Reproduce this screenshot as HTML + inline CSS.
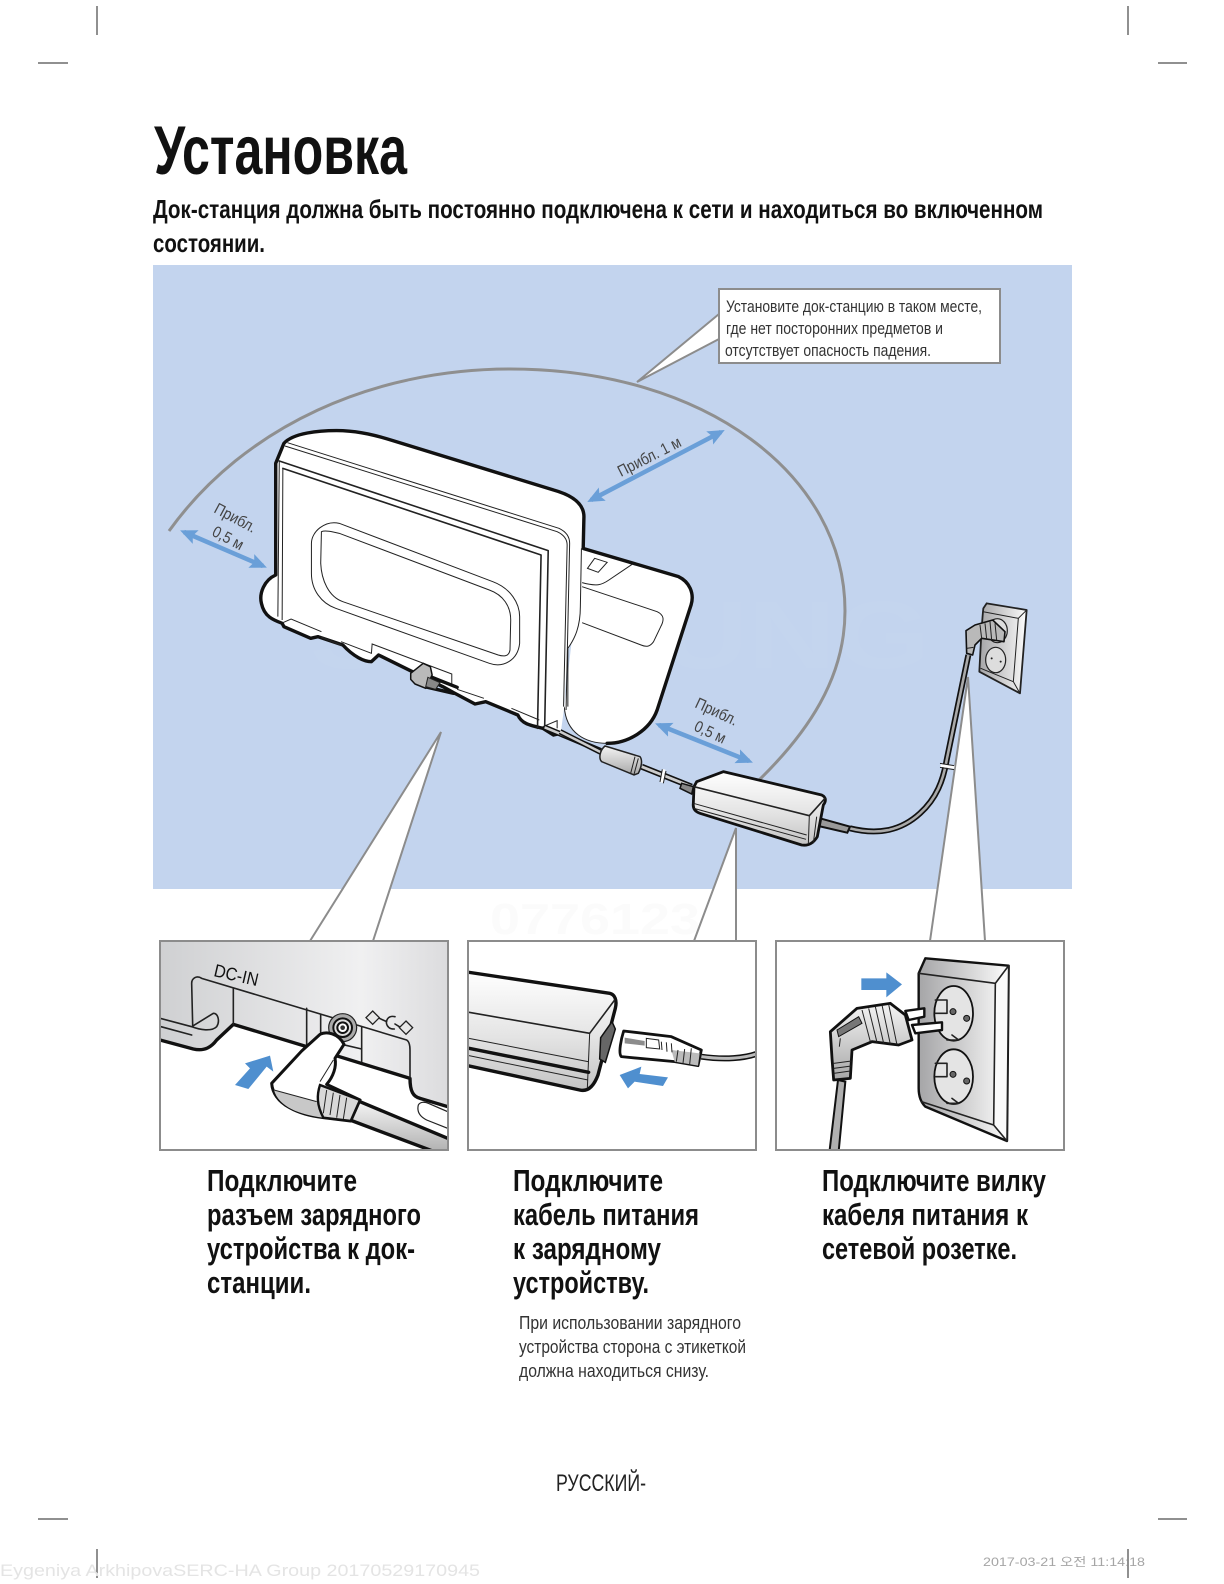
<!DOCTYPE html>
<html lang="ru"><head><meta charset="utf-8"><title>Установка</title>
<style>
html,body{margin:0;padding:0;background:#fff}
svg{display:block}
svg *{vector-effect:non-scaling-stroke}
text{font-family:"Liberation Sans","Noto Sans CJK KR",sans-serif;fill:#111}
.k{fill:none;stroke:#111;stroke-width:3.4;stroke-linejoin:round;stroke-linecap:round}
.t{fill:none;stroke:#222;stroke-width:1}
.m{fill:none;stroke:#222;stroke-width:1.6;stroke-linecap:round;stroke-linejoin:round}
.g{fill:none;stroke:#8c8c8c;stroke-width:2}
.cap{font-size:31px;font-weight:bold}
.note{font-size:18px;fill:#333}
.dim{font-size:16px;fill:#444}
</style></head><body>
<svg width="1224" height="1584" viewBox="0 0 1224 1584" xmlns="http://www.w3.org/2000/svg">
<defs>
<linearGradient id="hg" x1="0" x2="1" y1="0" y2="0"><stop offset="0" stop-color="#cfd0d2"/><stop offset=".7" stop-color="#f0f0f1"/><stop offset="1" stop-color="#dcdcde"/></linearGradient>
<linearGradient id="vg" x1="0" x2="0" y1="0" y2="1"><stop offset="0" stop-color="#fff"/><stop offset=".55" stop-color="#e4e4e4"/><stop offset="1" stop-color="#c4c4c4"/></linearGradient>
<linearGradient id="pg" x1="0" x2="1" y1="0" y2="0"><stop offset="0" stop-color="#a5a5a7"/><stop offset=".5" stop-color="#cfcfd0"/><stop offset=".85" stop-color="#eee"/><stop offset="1" stop-color="#fff"/></linearGradient>
<linearGradient id="cg" x1="0" x2="0" y1="0" y2="1"><stop offset="0" stop-color="#f4f4f4"/><stop offset="1" stop-color="#a8a8a8"/></linearGradient>
<marker id="ah" viewBox="0 0 16 14" refX="12" refY="7" markerUnits="userSpaceOnUse" markerWidth="17" markerHeight="15" orient="auto-start-reverse"><path d="M0 0L16 7L0 14L3 7Z" fill="#6a9fd8"/></marker>
<clipPath id="c1"><rect x="160" y="941" width="288" height="209"/></clipPath>
<clipPath id="c2"><rect x="468" y="941" width="288" height="209"/></clipPath>
<clipPath id="c3"><rect x="776" y="941" width="288" height="209"/></clipPath>
</defs>
<rect width="1224" height="1584" fill="#fff"/>

<!-- crop marks -->
<g stroke="#222" stroke-width="1" fill="none">
<path d="M97 6V35M1128 6V35M38 63H68M1158 63H1187M38 1519H68M1158 1519H1187M97 1549V1578M1128 1549V1578"/>
</g>

<!-- headings -->
<text x="154" y="174" font-size="69" font-weight="bold" textLength="253" lengthAdjust="spacingAndGlyphs">Установка</text>
<text x="153" y="218" font-size="26" font-weight="bold" textLength="890" lengthAdjust="spacingAndGlyphs">Док-станция должна быть постоянно подключена к сети и находиться во включенном</text>
<text x="153" y="252" font-size="26" font-weight="bold" textLength="112" lengthAdjust="spacingAndGlyphs">состоянии.</text>

<!-- blue area -->
<rect x="153" y="265" width="919" height="624" fill="#c3d4ee"/>
<text x="490" y="934" font-size="44" font-weight="bold" style="fill:#fbfbfb" textLength="240" lengthAdjust="spacingAndGlyphs">07761231</text>

<!-- range arc -->
<path d="M169 531C245 425 375 369 510 369C705 369 845 475 845 611C845 678 808 733 756 783" fill="none" stroke="#8f8f8f" stroke-width="3"/>

<!-- wedges -->
<path d="M441 732L310 941H373Z" fill="#fff"/><path d="M310 941L441 732L373 941" class="g"/>
<path d="M736 828L694 941H736Z" fill="#fff"/><path d="M694 941L736 828V941" class="g"/>
<path d="M968 677L930 941H985Z" fill="#fff"/><path d="M930 941L968 677L985 941" class="g"/>

<!-- callout -->
<path d="M719 314L637 382L719 339Z" fill="#fff"/><path d="M719 314L637 382L719 339" class="g"/>
<rect x="719" y="289" width="281" height="74" fill="#fff" stroke="#8c8c8c" stroke-width="2"/>
<text x="726" y="312" font-size="17" textLength="256" lengthAdjust="spacingAndGlyphs" style="fill:#333">Установите док-станцию в таком месте,</text>
<text x="726" y="334" font-size="17" textLength="217" lengthAdjust="spacingAndGlyphs" style="fill:#333">где нет посторонних предметов и</text>
<text x="725" y="356" font-size="17" textLength="206" lengthAdjust="spacingAndGlyphs" style="fill:#333">отсутствует опасность падения.</text>

<!-- faint watermark -->
<text x="310" y="668" font-size="96" font-weight="bold" textLength="620" lengthAdjust="spacingAndGlyphs" style="fill:#fff;opacity:.025">SAMSUNG</text>

<!-- distance arrows -->
<g stroke="#6a9fd8" stroke-width="4.5" fill="none" marker-start="url(#ah)" marker-end="url(#ah)">
<path d="M184 532L263 566" marker-start="url(#ah)" marker-end="url(#ah)"/>
<path d="M591 500L721 432" marker-start="url(#ah)" marker-end="url(#ah)"/>
<path d="M659 725L749 761" marker-start="url(#ah)" marker-end="url(#ah)"/>
</g>
<text class="dim" transform="translate(213 512) rotate(28)" textLength="45" lengthAdjust="spacingAndGlyphs">Прибл.</text>
<text class="dim" transform="translate(211 535) rotate(28)" textLength="33" lengthAdjust="spacingAndGlyphs">0,5 м</text>
<text class="dim" transform="translate(621 477) rotate(-27)" textLength="69" lengthAdjust="spacingAndGlyphs">Прибл. 1 м</text>
<text class="dim" transform="translate(694 707) rotate(25)" textLength="45" lengthAdjust="spacingAndGlyphs">Прибл.</text>
<text class="dim" transform="translate(693 730) rotate(25)" textLength="33" lengthAdjust="spacingAndGlyphs">0,5 м</text>

<!-- dock, zoom-1 coordinates -->
<g transform="translate(150 400) scale(.35714 .33333)">
<path d="M1210 445L1480 530C1510 545 1525 580 1515 615L1420 930C1400 990 1340 1030 1280 1030C1210 1030 1160 985 1160 920Z" fill="#fff"/>
<path class="k" d="M1212 445L1480 530C1510 545 1525 580 1515 615L1420 930C1400 990 1340 1030 1280 1030"/>
<path class="t" d="M1225 505L1245 475L1280 487L1255 517Z"/>
<path class="t" d="M1210 548C1250 560 1265 555 1285 540L1350 493M1210 560L1420 635C1440 645 1440 660 1430 680L1410 725C1400 740 1390 742 1375 735L1210 668M1160 920C1165 1000 1220 1030 1280 1030"/>
<path d="M375 130C400 100 470 90 540 92C590 95 630 105 680 122L1130 270C1180 285 1215 310 1215 350L1208 600L1205 680L1170 750L1160 920L1150 1000L1130 1005L1100 985C1060 975 1040 970 1030 945L940 905L910 912L850 878L820 860L640 765L620 785C600 785 570 770 540 735L470 710L450 715L375 680L370 670C345 660 320 650 312 610C305 580 320 540 352 525V190Z" fill="#fff"/>
<path class="k" d="M1213 445L1215 350C1215 310 1180 285 1130 270L680 122C630 105 590 95 540 92C470 90 400 100 375 130L352 190V525C320 540 305 580 312 610C320 650 345 660 370 670L375 680L450 715L470 710L540 735C570 770 600 785 620 785L640 765L820 860L850 878L910 912L940 905L1030 945C1040 970 1060 975 1100 985L1130 1005L1150 1000"/>
<path class="t" d="M1208 445L1205 620C1205 680 1190 715 1170 745V920"/>
<path class="t" d="M385 128L1145 385C1165 395 1175 410 1175 430L1165 930M378 138L1140 395C1160 405 1168 420 1168 435L1158 920"/>
<path class="m" d="M362 183L1115 452L1105 985M372 205L1095 465L1085 985"/>
<path class="t" stroke-width="1.5" d="M362 183L358 650M372 205L370 660"/>
<path class="t" d="M530 370L960 545C1010 565 1035 610 1035 650L1035 730C1030 780 990 805 950 790L520 625C480 610 452 570 452 520L452 430C452 395 490 360 530 370Z"/>
<path class="t" d="M480 395C490 390 510 395 530 400L950 570C990 585 1010 620 1010 660L1008 750C1005 770 990 770 975 765L540 605C500 590 480 540 478 490Z"/>
<path class="t" d="M372 668L395 657L480 695M535 725L620 760L622 732L845 822V855M860 868L935 895M1012 925L1090 960M1100 980L1140 962V985"/>
<path class="m" d="M480 712L535 735"/>
<path class="k" d="M780 828L860 862M770 860L850 880"/>
<path d="M730 820L765 790L785 800L790 825L772 865L742 852L730 838Z" fill="#b9b9b9" stroke="#111" stroke-width="1.5" stroke-linejoin="round"/>
<path d="M778 832L812 848L800 868L772 860Z" fill="#888" stroke="#222"/>
<path d="M1105 982L1262 1052" stroke="#111" stroke-width="5.5" fill="none"/>
<path d="M1105 982L1262 1052" stroke="#ccc" stroke-width="2.5" fill="none"/>
</g>

<!-- cable, adapter, wall socket: zoom-2 coordinates -->
<g transform="translate(560 560) scale(.33333)">
<path d="M1225 285L1160 600C1150 660 1130 715 1080 760C1020 815 950 825 870 805" fill="none" stroke="#111" stroke-width="6"/>
<path d="M1225 285L1160 600C1150 660 1130 715 1080 760C1020 815 950 825 870 805" fill="none" stroke="#a9a9a9" stroke-width="2.6"/>
<path d="M1142 616L1183 622" stroke="#fff" stroke-width="3" fill="none"/>
<path class="t" d="M1140 610L1182 617M1140 622L1182 629"/>
<path d="M245 620L395 680" stroke="#111" stroke-width="6" fill="none"/>
<path d="M245 620L395 680" stroke="#ccc" stroke-width="2.8" fill="none"/>
<path d="M312 628L305 668" stroke="#fff" stroke-width="3" fill="none"/>
<path class="t" d="M307 628L300 666M318 633L310 670"/>
<path d="M0 515L125 578" stroke="#111" stroke-width="5.5" fill="none"/>
<path d="M0 515L125 578" stroke="#ccc" stroke-width="2.5" fill="none"/>
<path d="M135 558L240 590C248 600 245 620 235 640L222 645L125 605C115 595 120 570 135 558Z" fill="url(#cg)" stroke="#222" stroke-width="1.5"/>
<path class="t" d="M225 590L212 640M235 595L222 643"/>
<path d="M365 670L400 680L395 702L360 685Z" fill="#888" stroke="#111" stroke-width="1.5"/>
<path d="M780 775L870 800L862 818L775 798Z" fill="#999" stroke="#111" stroke-width="2"/>
<path d="M410 665L490 635L785 705C800 712 798 725 790 735L772 830C760 850 745 858 725 855L420 760C405 755 398 745 400 730L402 680Z" fill="url(#vg)" stroke="#111" stroke-width="2.8" stroke-linejoin="round"/>
<path class="m" d="M402 680L748 767L795 715"/>
<path class="t" d="M748 767L745 852M400 730L740 825M402 745L738 838M770 770L760 850"/>
<path d="M1280 130L1400 150L1380 400L1258 335C1262 260 1265 190 1270 145Z" fill="url(#pg)" stroke="#222" stroke-width="1.8" stroke-linejoin="round"/>
<path class="t" d="M1268 155L1375 175L1398 152M1375 175L1360 365L1380 400M1262 325L1360 365"/>
<ellipse cx="1307" cy="300" rx="30" ry="38" fill="#ddd" stroke="#222" stroke-width="1.2"/>
<circle cx="1295" cy="295" r="3" fill="#222"/><circle cx="1322" cy="305" r="3" fill="#222"/>
<ellipse cx="1312" cy="212" rx="30" ry="36" fill="#ddd" stroke="#222" stroke-width="1.2"/>
<path d="M1218 212L1245 195L1298 180L1335 215L1332 245L1265 235L1245 255L1238 285L1220 280Z" fill="#b9b9b9" stroke="#111" stroke-width="1.6" stroke-linejoin="round"/>
<path class="t" d="M1260 195L1265 235M1275 190L1280 237M1290 185L1295 240M1305 190L1310 240M1220 265L1240 262"/>
</g>

<!-- panel 1 -->
<g clip-path="url(#c1)">
<rect x="160" y="941" width="288" height="209" fill="#fff"/>
<g transform="translate(150 925) scale(.33333)">
<path d="M30 47H893V545L810 520C790 515 780 500 780 460L470 365L250 298L200 345C185 365 165 380 130 372L30 345Z" fill="url(#hg)"/>
<path class="k" d="M30 345L130 372C165 380 185 365 200 345L250 298L470 365L780 460C780 500 790 515 810 520L893 545"/>
<path class="m" d="M30 280L125 305C150 315 185 320 200 305C210 290 205 265 190 265L125 305M33 305L125 330"/>
<path class="m" d="M128 300L125 175C125 160 140 150 155 160L770 345C778 350 780 360 780 375V458M250 190V298M470 250V362M512 268V322M635 305V410M575 358L635 372"/>
<path d="M805 540C810 530 825 530 835 535L893 560V610L830 585C810 575 800 560 805 540Z" fill="#fff" stroke="#222" stroke-width="1.2"/>
<circle cx="578" cy="308" r="42" fill="#aaa" stroke="#222" stroke-width="1.2"/>
<circle cx="578" cy="308" r="28" fill="#ddd" stroke="#111" stroke-width="2"/>
<circle cx="578" cy="308" r="16" fill="#fff" stroke="#111" stroke-width="2"/>
<circle cx="578" cy="308" r="7" fill="#333"/>
<path d="M630 530L893 640V700L600 585Z" fill="url(#cg)"/>
<path class="k" d="M630 530L893 640M600 585L893 695"/>
<path d="M365 475L455 378L510 328C530 318 565 325 582 358L555 400C560 425 550 455 530 478L630 525L602 588L520 578C450 570 370 540 365 475Z" fill="#fff" stroke="#111" stroke-width="3" stroke-linejoin="round"/>
<path d="M372 495L500 530L520 578C450 570 385 545 372 495Z" fill="#c8c8c8"/>
<path d="M510 480L630 525L602 588L520 578C500 540 500 510 510 480Z" fill="#d8d8d8" stroke="#111" stroke-width="2.4"/>
<path class="t" d="M530 495L520 565M550 503L540 570M570 510L560 578M590 518L580 582M372 495L500 530M510 470L550 405"/>
<path d="M255 480L300 430L285 415L360 392L370 440L350 425L295 492Z" fill="#4f8fcf"/>
<g fill="#e8e8e8" stroke="#222" stroke-width="1.3">
<path d="M668 258L688 278L668 298L648 278Z"/><path d="M768 288L788 308L768 328L748 308Z"/>
</g>
<path class="m" d="M688 280L710 290M735 297L748 305M735 275C712 270 705 290 712 302C718 312 727 312 733 312"/>
</g>
<text transform="translate(213 976) rotate(13)" font-size="18" textLength="45" lengthAdjust="spacingAndGlyphs">DC-IN</text>
</g>
<rect x="160" y="941" width="288" height="209" fill="none" stroke="#8c8c8c" stroke-width="2"/>

<!-- panel 2 -->
<g clip-path="url(#c2)">
<rect x="468" y="941" width="288" height="209" fill="#fff"/>
<g transform="translate(458 925) scale(.33333)">
<path d="M20 140L455 205C470 208 478 225 472 250L420 450C405 490 385 500 365 495L20 420Z" fill="url(#vg)" stroke="#111" stroke-width="3.4" stroke-linejoin="round"/>
<path class="m" d="M33 262L395 325L470 225"/>
<path class="t" d="M395 325L388 490M33 340L390 410"/>
<path class="k" stroke-width="2" d="M33 370L392 442"/>
<path class="t" d="M33 392L390 465"/>
<path d="M428 338L462 290L472 312L442 412L425 402Z" fill="#666" stroke="#111" stroke-width="1.5"/>
<path d="M730 395C800 405 860 400 900 385" fill="none" stroke="#111" stroke-width="6"/>
<path d="M730 395C800 405 860 400 900 385" fill="none" stroke="#bbb" stroke-width="3"/>
<path d="M497 318L640 335L730 375L720 422L650 410L490 395C480 385 490 340 497 318Z" fill="#fff" stroke="#111" stroke-width="2.8" stroke-linejoin="round"/>
<path d="M500 338L560 348V362L500 355Z" fill="#8c8c8c"/>
<path d="M640 375L725 385L720 422L650 410Z" fill="#bbb"/>
<path class="t" d="M565 340L602 345L605 372L565 368ZM610 350L612 375M625 352L627 380M640 355L642 382M660 375L655 410M680 372L675 415M700 370L695 418"/>
<path d="M485 450L550 425L545 447L630 457L615 483L530 470L510 490Z" fill="#4f8fcf"/>
</g></g>
<rect x="468" y="941" width="288" height="209" fill="none" stroke="#8c8c8c" stroke-width="2"/>

<!-- panel 3 -->
<g clip-path="url(#c3)">
<rect x="776" y="941" width="288" height="209" fill="#fff"/>
<g transform="translate(762 925) scale(.33333)">
<path d="M490 100L740 122L735 648L490 545C475 530 470 510 470 490L470 145Z" fill="url(#pg)" stroke="#111" stroke-width="2.4" stroke-linejoin="round"/>
<path d="M700 175L740 122L735 648L695 600Z" fill="#fafafa"/>
<path class="m" d="M470 145L700 175L740 122M700 175L695 600L735 648M478 530L695 600M740 122L735 648"/>
<ellipse cx="575" cy="265" rx="58" ry="82" fill="#e4e4e4" stroke="#111" stroke-width="1.8"/>
<ellipse cx="575" cy="455" rx="58" ry="82" fill="#e4e4e4" stroke="#111" stroke-width="1.8"/>
<path class="m" d="M520 225H555V265H520M520 415H555V455H520M570 330L590 345L555 345M570 520L590 535L555 535"/>
<circle cx="573" cy="260" r="9" fill="#666" stroke="#111"/><circle cx="614" cy="280" r="9" fill="#666" stroke="#111"/>
<circle cx="573" cy="448" r="9" fill="#666" stroke="#111"/><circle cx="614" cy="468" r="9" fill="#666" stroke="#111"/>
<path d="M430 258L487 250V275L440 285ZM450 300L540 292V315L460 325Z" fill="#fff" stroke="#111" stroke-width="2.4" stroke-linejoin="round"/>
<path d="M228 465L200 700H228L250 470Z" fill="#b0b0b0" stroke="#111" stroke-width="2"/>
<path d="M205 320L285 250L385 235L430 270L450 345L410 360L330 350L270 375L265 460L215 465L210 400Z" fill="url(#cg)" stroke="#111" stroke-width="2.8" stroke-linejoin="round"/>
<path d="M225 315L290 275L300 295L230 335Z" fill="#777" stroke="#111"/>
<path class="t" d="M300 255L325 350M320 250L345 352M340 245L365 355M360 240L385 358M380 238L405 360M215 415L268 408M215 430L268 423M215 445L265 438M232 365L235 340"/>
<path d="M298 160H373V142L420 178L373 217V195H298Z" fill="#4f8fcf"/>
</g></g>
<rect x="776" y="941" width="288" height="209" fill="none" stroke="#8c8c8c" stroke-width="2"/>

<!-- captions -->
<text class="cap" x="207" y="1191" textLength="150" lengthAdjust="spacingAndGlyphs">Подключите</text>
<text class="cap" x="207" y="1225" textLength="214" lengthAdjust="spacingAndGlyphs">разъем зарядного</text>
<text class="cap" x="207" y="1259" textLength="208" lengthAdjust="spacingAndGlyphs">устройства к док-</text>
<text class="cap" x="207" y="1293" textLength="104" lengthAdjust="spacingAndGlyphs">станции.</text>
<text class="cap" x="513" y="1191" textLength="150" lengthAdjust="spacingAndGlyphs">Подключите</text>
<text class="cap" x="513" y="1225" textLength="186" lengthAdjust="spacingAndGlyphs">кабель питания</text>
<text class="cap" x="513" y="1259" textLength="148" lengthAdjust="spacingAndGlyphs">к зарядному</text>
<text class="cap" x="513" y="1293" textLength="136" lengthAdjust="spacingAndGlyphs">устройству.</text>
<text class="cap" x="822" y="1191" textLength="224" lengthAdjust="spacingAndGlyphs">Подключите вилку</text>
<text class="cap" x="822" y="1225" textLength="206" lengthAdjust="spacingAndGlyphs">кабеля питания к</text>
<text class="cap" x="822" y="1259" textLength="195" lengthAdjust="spacingAndGlyphs">сетевой розетке.</text>
<text class="note" x="519" y="1329" textLength="222" lengthAdjust="spacingAndGlyphs">При использовании зарядного</text>
<text class="note" x="519" y="1353" textLength="227" lengthAdjust="spacingAndGlyphs">устройства сторона с этикеткой</text>
<text class="note" x="519" y="1377" textLength="190" lengthAdjust="spacingAndGlyphs">должна находиться снизу.</text>

<text x="556" y="1491" font-size="24" textLength="90" lengthAdjust="spacingAndGlyphs" style="fill:#222">РУССКИЙ-</text>
<text x="0" y="1576" font-size="17" textLength="480" lengthAdjust="spacingAndGlyphs" style="fill:#e4e4e4">Eygeniya ArkhipovaSERC-HA Group 20170529170945</text>
<text x="983" y="1566" font-size="12" textLength="162" lengthAdjust="spacingAndGlyphs" style="fill:#a5a5a5">2017-03-21   오전 11:14:18</text>
</svg>
</body></html>
